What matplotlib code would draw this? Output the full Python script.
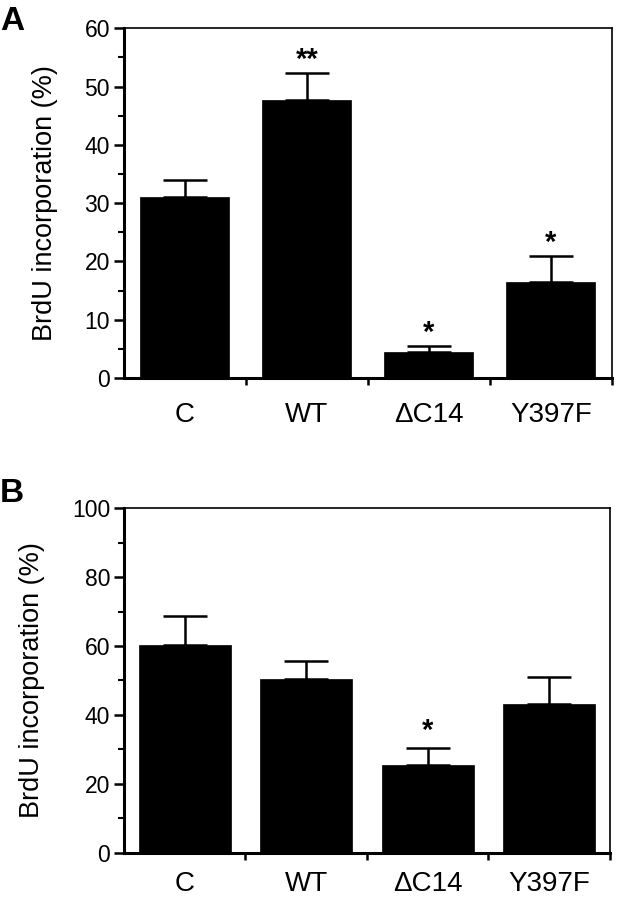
import matplotlib
matplotlib.use("Agg")
import matplotlib.pyplot as plt
import numpy as np

plt.rcParams["font.family"] = ["Liberation Sans", "DejaVu Sans"]

CATEGORIES = ["C", "WT", "\u0394C14", "Y397F"]

# panel A
A_MEANS = [31.1, 47.7, 4.4, 16.4]
A_ERRS  = [2.9, 4.6, 1.1, 4.5]
A_STARS = ["", "**", "*", "*"]

# panel B
B_MEANS = [60.2, 50.3, 25.4, 43.3]
B_ERRS  = [8.6, 5.5, 4.9, 7.8]
B_STARS = ["", "", "*", ""]


def draw_panel(ax, means, errs, stars, ymax, ystep, width, star_pad, xpad):
    x = np.arange(len(CATEGORIES))
    ax.bar(x, means, width, color="black", edgecolor="black", linewidth=0.5, zorder=2)
    ax.errorbar(x, means, yerr=[np.zeros(len(means)), errs], fmt="none",
                ecolor="black", elinewidth=1.8, capsize=15.5, capthick=1.8, zorder=3)
    for xi, m, e, s in zip(x, means, errs, stars):
        if s:
            ax.text(xi, m + e + star_pad, s, ha="center", va="center",
                    fontsize=21, fontweight="bold")

    ax.set_xlim(-0.5, len(CATEGORIES) - 0.5)
    ax.set_ylim(0, ymax)
    ax.set_yticks(np.arange(0, ymax + 1, ystep))
    ax.set_yticks(np.arange(0, ymax + 1, ystep / 2), minor=True)
    ax.set_xticks(x)
    ax.set_xticklabels(CATEGORIES, fontsize=20)
    ax.set_xticks(np.arange(0.5, len(CATEGORIES), 1.0), minor=True)
    ax.tick_params(axis="x", which="major", length=0, pad=xpad)
    ax.tick_params(axis="x", which="minor", length=5, width=1.8, direction="out")
    ax.tick_params(axis="y", which="major", length=7, width=1.8, labelsize=16.5, pad=3)
    ax.tick_params(axis="y", which="minor", length=4, width=1.5)
    ax.set_ylabel("BrdU incorporation (%)", fontsize=19.5, labelpad=19)
    for side in ["left", "bottom"]:
        ax.spines[side].set_linewidth(2.2)
    for side in ["top", "right"]:
        ax.spines[side].set_linewidth(1.2)


fig = plt.figure(figsize=(6.18, 9.0), dpi=100)

ax_a = fig.add_axes([0.2006, 0.580, 0.7896, 0.3886])
draw_panel(ax_a, A_MEANS, A_ERRS, A_STARS, 60, 10, 0.73, 2.3, 17)

ax_b = fig.add_axes([0.2006, 0.0526, 0.7864, 0.3826])
draw_panel(ax_b, B_MEANS, B_ERRS, B_STARS, 100, 20, 0.76, 5.0, 13)

fig.text(0.0, 0.976, "A", fontsize=24, fontweight="bold", va="center", ha="left")
fig.text(0.0, 0.452, "B", fontsize=24, fontweight="bold", va="center", ha="left")

fig.savefig("out.png", dpi=100)
plt.close(fig)
